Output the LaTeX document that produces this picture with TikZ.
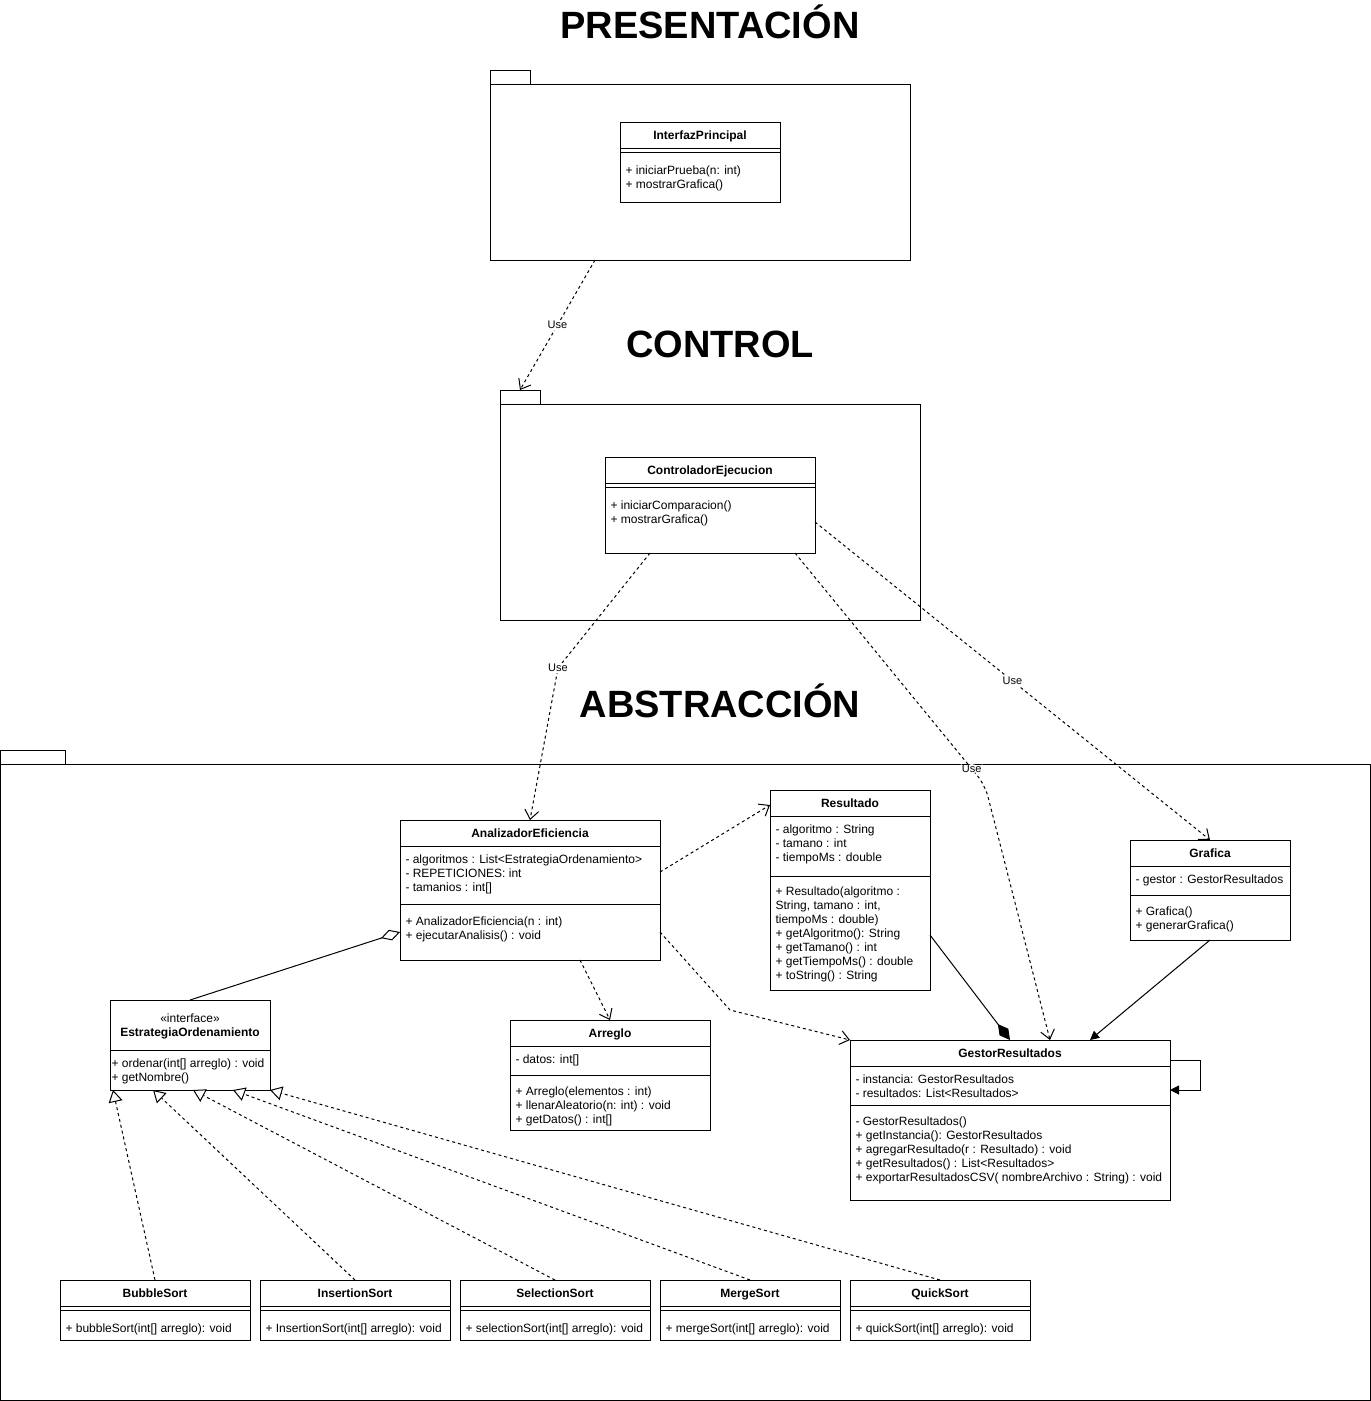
\documentclass[tikz,border=0pt]{standalone}
\usepackage{fontspec}
\setmainfont{Liberation Sans}
\usetikzlibrary{arrows.meta}

\begin{document}
\begin{tikzpicture}[x=1pt,y=-1pt,line width=1pt,
  box/.style={draw,anchor=north west,inner sep=0,outer sep=0},
  cname/.style={anchor=base,font=\bfseries\fontsize{12}{14}\selectfont,inner sep=0},
  txt/.style={anchor=base west,align=left,font=\fontsize{12}{14}\selectfont,inner sep=0},
  title/.style={anchor=base,font=\bfseries\fontsize{38}{40}\selectfont,inner sep=0},
  lbl/.style={fill=white,font=\fontsize{11}{12}\selectfont,inner sep=1pt},
  dep/.style={dash pattern=on 3pt off 3pt,-{Straight Barb[length=9pt,width=14pt]}},
  realize/.style={dash pattern=on 3pt off 3pt,-{Triangle[open,length=12pt,width=14pt,fill=white]}},
  agg/.style={-{Diamond[open,length=20pt,width=11pt,fill=white]}},
  comp/.style={-{Diamond[length=20pt,width=11pt]}},
  assoc/.style={-{Triangle[length=9pt,width=9pt]}}]
   \useasboundingbox (0,0) rectangle (1371,1401);
   % packages and layer titles
   \node[title] (t-pres) at (710,38) {PRESENTACIÓN};
   \node[title] (t-ctrl) at (720,357) {CONTROL};
   \node[title] (t-abs) at (720,717) {ABSTRACCIÓN};
   \node[box,minimum width=40,minimum height=14] (prestab) at (490,70) {};
   \node[box,minimum width=420,minimum height=176] (pres) at (490,84) {};
   \node[box,minimum width=40,minimum height=14] (ctrltab) at (500,390) {};
   \node[box,minimum width=420,minimum height=216] (ctrl) at (500,404) {};
   \node[box,minimum width=65,minimum height=14] (abstab) at (0.5,750) {};
   \node[box,minimum width=1369.5,minimum height=636] (abs) at (0.5,764) {};
   % InterfazPrincipal  (txt nodes sit on the baseline of their last line)
   \node[box,minimum width=160,minimum height=80] (interfaz) at (620,122) {};
   \node[cname] (interfaz-n) at (700,139) {InterfazPrincipal};
   \draw (620,148) -- (780,148) (620,152) -- (780,152);
   \node[txt] (interfaz-m) at (625,188) {+ iniciarPrueba(n: int)\\+ mostrarGrafica()};
   % ControladorEjecucion
   \node[box,minimum width=210,minimum height=96] (ctrlcls) at (605,457) {};
   \node[cname] (ctrlcls-n) at (710,474) {ControladorEjecucion};
   \draw (605,483) -- (815,483) (605,487) -- (815,487);
   \node[txt] (ctrlcls-m) at (610,523) {+ iniciarComparacion()\\+ mostrarGrafica()};
   % AnalizadorEficiencia
   \node[box,minimum width=260,minimum height=140] (anal) at (400,820) {};
   \node[cname] (anal-n) at (530,837) {AnalizadorEficiencia};
   \draw (400,846) -- (660,846) (400,904) -- (660,904);
   \node[txt] (anal-a) at (405,891) {- algoritmos : List<EstrategiaOrdenamiento>\\- REPETICIONES: int\\- tamanios : int[]};
   \node[txt] (anal-m) at (405,939) {+ AnalizadorEficiencia(n : int)\\+ ejecutarAnalisis() : void};
   % Resultado
   \node[box,minimum width=160,minimum height=200] (res) at (770,790) {};
   \node[cname] (res-n) at (850,807) {Resultado};
   \draw (770,816) -- (930,816) (770,876) -- (930,876);
   \node[txt] (res-a) at (775,861) {- algoritmo : String\\- tamano : int\\- tiempoMs : double};
   \node[txt] (res-m) at (775,979) {+ Resultado(algoritmo :\\String, tamano : int,\\tiempoMs : double)\\+ getAlgoritmo(): String\\+ getTamano() : int\\+ getTiempoMs() : double\\+ toString() : String};
   % Grafica
   \node[box,minimum width=160,minimum height=100] (graf) at (1130,840) {};
   \node[cname] (graf-n) at (1210,857) {Grafica};
   \draw (1130,866) -- (1290,866) (1130,895) -- (1290,895);
   \node[txt] (graf-a) at (1135,883) {- gestor : GestorResultados};
   \node[txt] (graf-m) at (1135,929) {+ Grafica()\\+ generarGrafica()};
   % GestorResultados
   \node[box,minimum width=320,minimum height=160] (gest) at (850,1040) {};
   \node[cname] (gest-n) at (1010,1057) {GestorResultados};
   \draw (850,1066) -- (1170,1066) (850,1105) -- (1170,1105);
   \node[txt] (gest-a) at (855,1097) {- instancia: GestorResultados\\- resultados: List<Resultados>};
   \node[txt] (gest-m) at (855,1181) {- GestorResultados()\\+ getInstancia(): GestorResultados\\+ agregarResultado(r : Resultado) : void\\+ getResultados() : List<Resultados>\\+ exportarResultadosCSV( nombreArchivo : String) : void};
   % EstrategiaOrdenamiento
   \node[box,minimum width=160,minimum height=90] (estr) at (110,1000) {};
   \node[anchor=base,font=\fontsize{12}{14}\selectfont,inner sep=0] (estr-s) at (190,1022) {«interface»};
   \node[cname] (estr-n) at (190,1036) {EstrategiaOrdenamiento};
   \draw (110,1050) -- (270,1050);
   \node[txt] (estr-m) at (111,1081) {+ ordenar(int[] arreglo) : void\\+ getNombre()};
   % Arreglo
   \node[box,minimum width=200,minimum height=110] (arr) at (510,1020) {};
   \node[cname] (arr-n) at (610,1037) {Arreglo};
   \draw (510,1046) -- (710,1046) (510,1075) -- (710,1075);
   \node[txt] (arr-a) at (515,1063) {- datos: int[]};
   \node[txt] (arr-m) at (515,1123) {+ Arreglo(elementos : int)\\+ llenarAleatorio(n: int) : void\\+ getDatos() : int[]};
   % sorting classes
   \foreach \nm/\x/\w/\mth/\tip in {BubbleSort/60/190/bubbleSort/3,InsertionSort/260/190/InsertionSort/43,
      SelectionSort/460/190/selectionSort/83,MergeSort/660/180/mergeSort/123,QuickSort/850/180/quickSort/160} {
    \node[box,minimum width=\w,minimum height=60] (\nm) at (\x,1280) {};
    \node[cname] (\nm-n) at ({\x+\w/2},1297) {\nm};
    \draw (\x,1306) -- ++(\w,0) (\x,1310) -- ++(\w,0);
    \node[txt] (\nm-m) at ({\x+5},1332) {+ \mth(int[] arreglo): void};
    \draw[realize] (\nm.north) -- ([xshift=\tip]estr.south west);
   }
   % dependencies
   \coordinate (w2) at (558,668);
   \coordinate (w3) at (985,785);
   \coordinate (w7) at (730,1010);
   \draw[dep] ([xshift=105]pres.south west) -- node[lbl] (u1) {Use} (ctrltab.north);
   \draw[dep] ([xshift=45]ctrlcls.south west) -- (w2) node[lbl] (u2) {Use} -- (anal.north);
   \draw[dep,rounded corners=12pt] ([xshift=-20]ctrlcls.south east) -- node[lbl,pos=0.93] (u3) {Use} (w3) -- ([xshift=200]gest.north west);
   \draw[dep] ([yshift=31]ctrlcls.south east) -- node[lbl] (u4) {Use} (graf.north);
   \draw[dep] ([yshift=-52]anal.north east) -- ([yshift=-15]res.north west);
   \draw[dep] ([xshift=-80]anal.south east) -- (arr.north);
   \draw[dep] ([yshift=28]anal.south east) -- (w7) -- (gest.north west);
   % associations
   \draw[agg] (estr.north) -- ([yshift=28]anal.south west);
   \draw[comp] ([yshift=55]res.south east) -- (gest.north);
   \draw[assoc] (graf.south) -- ([xshift=240]gest.north west);
   \draw[assoc] ([yshift=-20]gest.north east) -- ++(30,0) -- ++(0,30) -- ([yshift=-50]gest.north east);
\end{tikzpicture}
\end{document}
